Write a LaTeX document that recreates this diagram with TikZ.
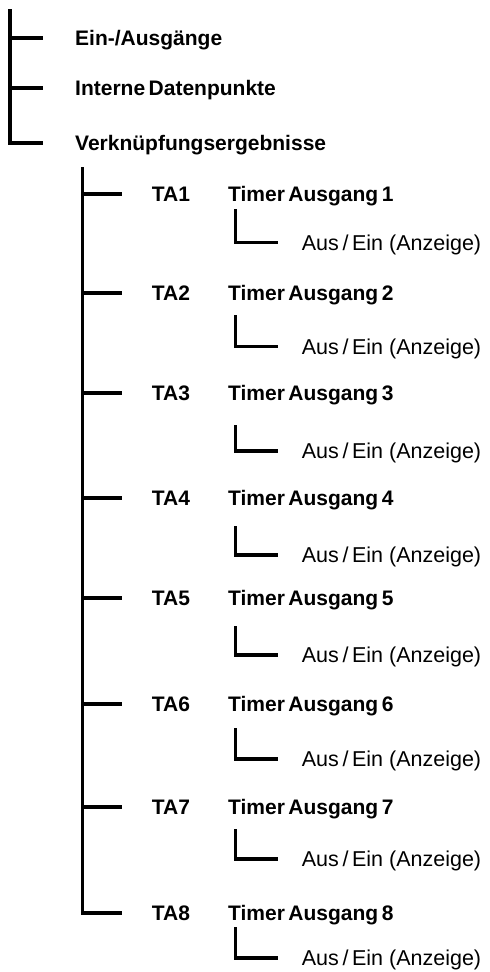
\documentclass[tikz,border=0pt]{standalone}
\usepackage{fontspec}
\setmainfont{Liberation Sans}
\begin{document}
\begin{tikzpicture}[x=1pt,y=-1pt,
  tree/.style={line width=3.2pt},
  lbl/.style={font=\bfseries\fontsize{21}{25}\selectfont, anchor=west, inner sep=0pt, text height=15pt, text depth=0pt},
  sub/.style={font=\fontsize{21.5}{25}\selectfont, anchor=west, inner sep=0pt, text height=15.4pt, text depth=0pt}]
\useasboundingbox (0,0) rectangle (490,972);
% top level
\coordinate (r0) at (10,9);
\coordinate (r1) at (10,38);
\coordinate (r2) at (10,88);
\coordinate (re1) at (43,38);
\coordinate (re2) at (43,88);
\coordinate (re3) at (43,143);
\draw[tree] (r0) |- (re3);
\draw[tree] (r1) -- (re1);
\draw[tree] (r2) -- (re2);
\node[lbl] (n1) at (75,38) {Ein-/Ausgänge};
\node[lbl] (n2) at (75,88) {Interne\,Datenpunkte};
\node[lbl] (n3) at (75,143) {Verknüpfungsergebnisse};
% second level
\coordinate (k0) at (82.7,167);
\foreach \i/\y/\lt/\lb in {1/194/209/242.7, 2/293/315/346.7, 3/393/425/451, 4/498/526/555, 5/598/626/655, 6/704/728/759, 7/807/829/859, 8/913/927/958}{
  \coordinate (k\i) at (82.7,\y);
  \coordinate (ke\i) at (121.7,\y);
  \node[lbl] (ta\i) at (151.7,\y) {TA\i};
  \node[lbl] (tm\i) at (228,\y) {Timer\,Ausgang\,\i};
  \coordinate (lt\i) at (235.7,\lt);
  \coordinate (le\i) at (277.7,\lb);
  \draw[tree] (lt\i) |- (le\i);
  \node[sub] (ae\i) at (301.7,\lb) {Aus\,/\,Ein (Anzeige)};
}
\draw[tree] (k0) |- (ke8);
\foreach \i in {1,...,7}{
  \draw[tree] (k\i) -- (ke\i);
}
\end{tikzpicture}
\end{document}
